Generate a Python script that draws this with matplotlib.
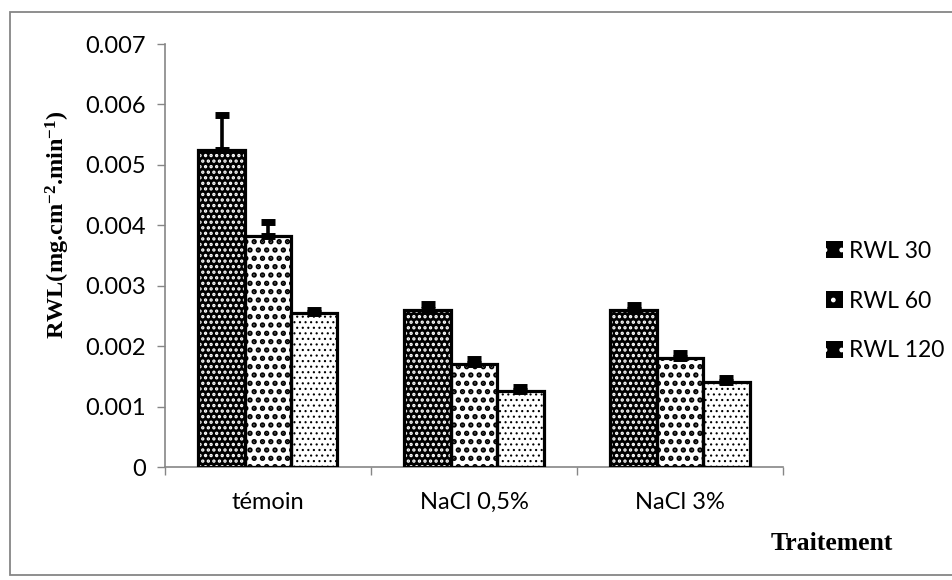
import matplotlib
matplotlib.use("Agg")
import matplotlib.pyplot as plt
import numpy as np
from matplotlib.patches import Rectangle, Patch

categories = ["témoin", "NaCl 0,5%", "NaCl 3%"]
series = ["RWL 30", "RWL 60", "RWL 120"]
rwl30 = [0.00525, 0.00260, 0.00260]
rwl60 = [0.00383, 0.00170, 0.00181]
rwl120 = [0.00255, 0.00126, 0.00141]
err30 = [0.00057, 0.00010, 0.00008]
err60 = [0.00022, 0.00009, 0.00008]
err120 = [0.00005, 0.00007, 0.00007]
yticks = [0, 0.001, 0.002, 0.003, 0.004, 0.005, 0.006, 0.007]
ytick_labels = ["0", "0.001", "0.002", "0.003", "0.004", "0.005", "0.006", "0.007"]

values = [rwl30, rwl60, rwl120]
errors = [err30, err60, err120]
# fill colour, hatch colour, hatch pattern, hatch line width for each series
styles = [("black", "white", "...", 1.6),
          ("white", "black", "..", 2.6),
          ("white", "black", "...", 0.8)]

plt.rcParams["mathtext.fontset"] = "custom"
plt.rcParams["mathtext.rm"] = "Liberation Serif:bold"
plt.rcParams["mathtext.default"] = "rm"

fig = plt.figure(figsize=(9.53, 5.8), dpi=100)
ax = fig.add_axes([0.1731, 0.1948, 0.8216 - 0.1731, 0.9241 - 0.1948])

x = np.arange(len(categories))
width = 0.225
gray = "#868686"
for i, (vals, errs, (fc, hc, hatch, hlw)) in enumerate(zip(values, errors, styles)):
    pos = x + (i - 1) * width
    with plt.rc_context({"hatch.linewidth": hlw}):
        ax.bar(pos, vals, width, color=fc, edgecolor=hc, hatch=hatch, linewidth=0, zorder=2)
    ax.bar(pos, vals, width, facecolor="none", edgecolor="black", linewidth=2.3, zorder=3)
    ax.errorbar(pos, vals, yerr=[np.zeros(len(errs)), errs], fmt="none", ecolor="black",
                elinewidth=2.6, capsize=5, capthick=5, zorder=4)

ax.set_xlim(-0.5, 2.5)
ax.set_ylim(0, 0.007)
ax.set_yticks(yticks)
ax.set_yticklabels(ytick_labels, fontsize=17, family="Lato")
ax.set_xticks(x)
ax.set_xticklabels(categories, fontsize=17, family="Lato")
ax.tick_params(axis="x", length=0, pad=18)
ax.set_xticks([-0.5, 0.5, 1.5, 2.5], minor=True)
ax.tick_params(axis="x", which="minor", length=6, color=gray, width=1)
ax.tick_params(axis="y", length=6, color=gray, width=1, pad=8)
for s in ["top", "right"]:
    ax.spines[s].set_visible(False)
for s in ["left", "bottom"]:
    ax.spines[s].set_color(gray)
    ax.spines[s].set_linewidth(1.2)

fig.text(0.061, 0.612, "RWL(mg.cm$^{-2}$.min$^{-1}$)", rotation=90, ha="center", va="center",
         fontsize=17.5, fontweight="bold", family="Liberation Serif")
fig.text(0.873, 0.063, "Traitement", ha="center", va="center",
         fontsize=18.5, fontweight="bold", family="Liberation Serif")

handles = [Patch(facecolor="black", edgecolor="black", linewidth=1) for _ in styles]
leg = fig.legend(handles, series, loc="center left", bbox_to_anchor=(0.845, 0.481),
                 frameon=False, handlelength=0.75, handleheight=0.75, handletextpad=0.25,
                 labelspacing=1.25, prop={"family": "Lato", "size": 16.5})
# sparse white marks on the legend keys
for hp in leg.get_patches():
    hp.set_hatch(".")
    hp.set_edgecolor("white")
    hp.set_linewidth(0)

# outer chart frame
fig.patches.append(Rectangle((0.010, 0.009), 0.990, 0.970, transform=fig.transFigure,
                             fill=False, edgecolor=gray, linewidth=1.3))

fig.savefig("out.png", dpi=100)
